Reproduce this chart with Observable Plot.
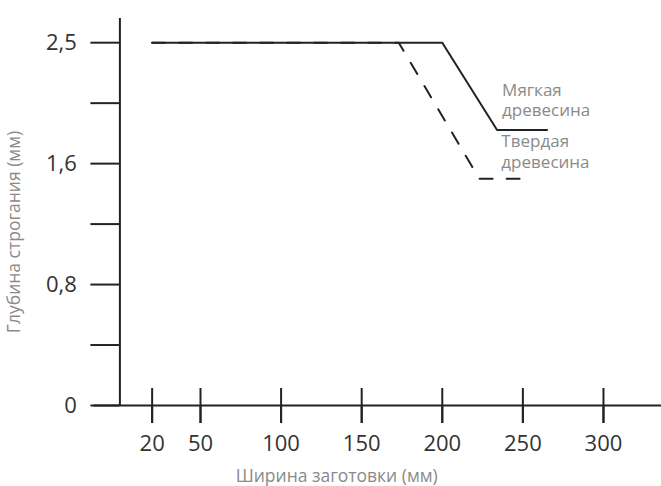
<!DOCTYPE html>
<html>
<head>
<meta charset="utf-8">
<script src="https://cdn.jsdelivr.net/npm/d3@7"></script>
<script src="https://cdn.jsdelivr.net/npm/@observablehq/plot@0.6"></script>
<style>
  html, body { margin: 0; padding: 0; background: #fff; }
</style>
</head>
<body>
<div id="chart"></div>
<script>
const xTicks = [20, 50, 100, 150, 200, 250, 300];
const yLevels = [0, 0.8, 1.6, 2.5];
const yTicks = [0, 0.4, 0.8, 1.2, 1.6, 2.05, 2.5];
const yTickLabels = ["0", "", "0,8", "", "1,6", "", "2,5"];
const seriesNames = ["Мягкая\nдревесина", "Твердая\nдревесина"];
const softX = [20, 200, 234, 265];
const softY = [2.5, 2.5, 1.85, 1.85];
const hardX = [20, 173, 223, 255];
const hardY = [2.5, 2.5, 1.5, 1.5];
const xTitle = "Ширина заготовки (мм)";
const yTitle = "Глубина строгания (мм)";

const soft = softX.map((x, i) => ({x, y: softY[i]}));
const hard = hardX.map((x, i) => ({x, y: hardY[i]}));
const yLabelMap = new Map(yTicks.map((t, i) => [t, yTickLabels[i]]));
// the chart spaces its labelled depths evenly: piecewise-linear y
const yLevelScale = d3.scaleLinear().domain(yLevels).range(yLevels.map((_, i) => i));

const ink = "#222";
const labelInk = "#333";
const titleInk = "#8a8a8a";

const chart = Plot.plot({
  width: 661,
  height: 486,
  marginLeft: 119.4,
  marginRight: 0,
  marginTop: 18,
  marginBottom: 81,
  x: {domain: [0, 336]},
  y: {transform: v => yLevelScale(v)},
  style: {fontFamily: "Open Sans", background: "#fff", overflow: "visible"},
  marks: [
    Plot.ruleX([0], {y1: 0, y2: 2.68, stroke: ink, strokeWidth: 2}),
    Plot.ruleY([0], {x1: -16, x2: 336, stroke: ink, strokeWidth: 2}),
    Plot.axisY(yTicks, {tickSize: 29, tickPadding: 14, tickFormat: d => yLabelMap.get(d), fontSize: 22, stroke: ink, strokeWidth: 2, fill: labelInk, label: null}),
    Plot.tickX(xTicks, {x: d => d, insetTop: 370, insetBottom: -18, stroke: ink, strokeWidth: 2}),
    Plot.axisX(xTicks, {tickSize: 18, tickPadding: 12, fontSize: 22, stroke: ink, strokeWidth: 2, fill: labelInk, label: null}),
    Plot.line(hard, {x: "x", y: "y", stroke: ink, strokeWidth: 2, strokeDasharray: "13,14"}),
    Plot.line(soft, {x: "x", y: "y", stroke: ink, strokeWidth: 2}),
    Plot.text([seriesNames[0]], {x: () => softX[2], y: () => softY[2], text: d => d, textAnchor: "start", lineAnchor: "bottom", lineHeight: 1.2, dx: 5, dy: -14, fontSize: 17, fill: titleInk}),
    Plot.text([seriesNames[1]], {x: () => hardX[2], y: () => hardY[2], text: d => d, textAnchor: "start", lineAnchor: "bottom", lineHeight: 1.2, dx: 22, dy: -11, fontSize: 17, fill: titleInk}),
    Plot.text([xTitle], {frameAnchor: "bottom", text: d => d, textAnchor: "middle", lineAnchor: "middle", dx: -54, dy: 71, fontSize: 17.5, fill: titleInk}),
    Plot.text([yTitle], {frameAnchor: "left", text: d => d, rotate: -90, textAnchor: "middle", lineAnchor: "middle", dx: -105.4, dy: 20, fontSize: 17.5, fill: titleInk})
  ]
});
document.getElementById("chart").appendChild(chart);
</script>
</body>
</html>
